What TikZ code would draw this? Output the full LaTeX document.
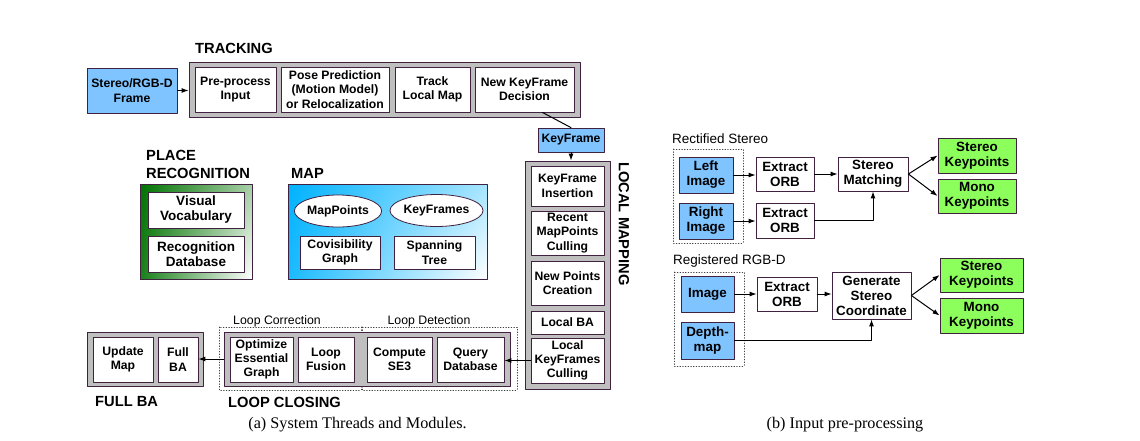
\documentclass[tikz,border=0pt]{standalone}
\usepackage{fontspec}
\setmainfont{Liberation Serif}
\setsansfont{Liberation Sans}
\usetikzlibrary{shapes.geometric,arrows.meta,shadings}
\definecolor{edge}{rgb}{0.25,0.13,0.25}
\definecolor{inblue}{rgb}{0.5,0.77,1}
\definecolor{kpgreen}{rgb}{0.55,1,0.36}
\definecolor{mapblue}{rgb}{0,0.7,1}
\definecolor{prgreen}{rgb}{0,0.45,0}
\definecolor{bandgray}{rgb}{0.75,0.75,0.75}

\begin{document}
\begin{tikzpicture}[line cap=round,line join=round,x=1pt,y=-1pt,
	sz/.style 2 args={minimum width=#1pt,minimum height=#2pt},
	box/.style={draw=edge,fill=white,line width=0.8pt,inner sep=0pt,align=center,font=\fontsize{12.2}{14.3}\selectfont\sffamily\bfseries},
	inbox/.style={box,fill=inblue},
	prbox/.style={box,font=\fontsize{13.5}{15}\selectfont\sffamily\bfseries},
	rbox/.style={box,font=\fontsize{13.4}{15}\selectfont\sffamily\bfseries},
	rin/.style={rbox,fill=inblue},
	kpbox/.style={rbox,fill=kpgreen},
	band/.style={draw=edge,fill=bandgray,line width=0.8pt,inner sep=0pt},
	title/.style={font=\fontsize{14.7}{17.5}\selectfont\sffamily\bfseries,inner sep=0pt,align=left},
	sub/.style={font=\fontsize{12.3}{14}\selectfont\sffamily,inner sep=0pt},
	rsub/.style={font=\fontsize{13.5}{15}\selectfont\sffamily,inner sep=0pt},
	capt/.style={font=\fontsize{16.2}{18}\selectfont,inner sep=0pt},
	grp/.style={draw=black!75,dotted,line width=0.7pt},
	link/.style={-{Latex[length=7pt,width=5pt]},line width=1pt}]
	\useasboundingbox (0,0) rectangle (1140,440);

	% tracking
	\node[band,sz={391}{55}] (trk) at (384.5,89.5) {};
	\node[inbox,sz={90}{45}] (frame) at (132,90.5) {Stereo/RGB-D\\Frame};
	\node[box,sz={81}{45}] (pre) at (235.5,89.5) {Pre-process\\Input};
	\node[box,sz={108}{45}] (pose) at (335,89.5) {Pose Prediction\\(Motion Model)\\or Relocalization};
	\node[box,sz={75}{45}] (tlm) at (432.5,89.5) {Track\\Local Map};
	\node[box,sz={99}{45}] (nkd) at (524.5,89.5) {New KeyFrame\\Decision};
	\node[title,anchor=west] (trkt) at (195,48) {TRACKING};
	\draw[link] (frame.east) -- (frame.east -| trk.west);

	% keyframe
	\node[inbox,sz={66}{24}] (kf) at (571,140) {KeyFrame};
	\draw[line width=1pt] (nkd.-52) -- (kf.north);

	% local mapping
	\node[band,sz={85}{228}] (lm) at (567.5,275) {};
	\node[box,sz={73}{40}] (kfi) at (567.5,186) {KeyFrame\\Insertion};
	\node[box,sz={73}{44}] (rmc) at (567.5,233) {Recent\\MapPoints\\Culling};
	\node[box,sz={73}{44}] (npc) at (567.5,283) {New Points\\Creation};
	\node[box,sz={73}{23}] (lba) at (567.5,322.5) {Local BA};
	\node[box,sz={73}{45}] (lkc) at (567.5,360.5) {Local\\KeyFrames\\Culling};
	\node[title,rotate=-90] (lmt) at (624,224) {LOCAL MAPPING};
	\draw[link] (kf.south) -- (kf.south |- lm.north);

	% place recognition
	\node[band,sz={112}{95},upper left=prgreen,lower left=prgreen!90!white,upper right=prgreen!35!white,lower right=white] (pr) at (196,231.5) {};
	\node[prbox,sz={96}{36}] (vv) at (196,210) {Visual\\Vocabulary};
	\node[prbox,sz={96}{36}] (rd) at (196,254) {Recognition\\Database};
	\node[title,anchor=west] (prt) at (146,164.5) {PLACE\\RECOGNITION};

	% map
	\node[band,sz={199}{95},upper left=mapblue,lower left=mapblue!90!white,upper right=mapblue!35!white,lower right=white] (map) at (387.5,231.5) {};
	\node[box,ellipse,sz={86}{32}] (mp) at (338,211) {MapPoints};
	\node[box,ellipse,sz={87}{32}] (kfs) at (436.5,210.5) {KeyFrames};
	\node[box,sz={80}{33}] (cg) at (340,252.5) {Covisibility\\Graph};
	\node[box,sz={81}{33}] (st) at (434.5,252.5) {Spanning\\Tree};
	\node[title,anchor=west] (mapt) at (291,173) {MAP};

	% loop closing
	\draw[grp] (219,327) rectangle (361,390);
	\draw[grp] (362,327) rectangle (517,390);
	\node[band,sz={286}{54}] (lcb) at (367,359) {};
	\node[box,sz={63}{45}] (oeg) at (261.5,359.5) {Optimize\\Essential\\Graph};
	\node[box,sz={56}{45}] (lf) at (326,359.5) {Loop\\Fusion};
	\node[box,sz={65}{45}] (cse) at (399.5,359.5) {Compute\\SE3};
	\node[box,sz={67}{45}] (qd) at (470.5,359.5) {Query\\Database};
	\node[sub] (lct) at (277,321) {Loop Correction};
	\node[sub] (ldt) at (429,321) {Loop Detection};
	\node[title,anchor=west] (lclt) at (228,402) {LOOP CLOSING};
	\draw[link] (lkc.west) -- (lkc.west -| qd.east);

	% full BA
	\node[band,sz={116}{54}] (fba) at (145,359) {};
	\node[box,sz={60}{45}] (um) at (123,359.5) {Update\\Map};
	\node[box,sz={40}{45}] (fb) at (178,359.5) {Full\\BA};
	\node[title,anchor=west] (fbat) at (95,402) {FULL BA};
	\draw[link] (lcb.west) -- (lcb.west -| fb.east);

	\node[capt] (capa) at (357.5,425) {(a) System Threads and Modules.};

	% rectified stereo
	\node[rsub,anchor=west] (rst) at (672,139) {Rectified Stereo};
	\draw[grp] (673,149) rectangle (743,243);
	\node[rin,sz={54}{36}] (li) at (706,175) {Left\\Image};
	\node[rin,sz={54}{36}] (ri) at (706,221) {Right\\Image};
	\node[rbox,sz={58}{34}] (orb1) at (785,174) {Extract\\ORB};
	\node[rbox,sz={58}{35}] (orb2) at (785,220.5) {Extract\\ORB};
	\node[rbox,sz={70}{34}] (sm) at (873,174) {Stereo\\Matching};
	\node[kpbox,sz={78}{35}] (sk1) at (977,155.5) {Stereo\\Keypoints};
	\node[kpbox,sz={78}{34}] (mk1) at (977,196) {Mono\\Keypoints};
	\draw[link] (li.east) -- (li.east -| orb1.west);
	\draw[link] (orb1.east) -- (sm.west);
	\draw[link] (ri.east) -- (ri.east -| orb2.west);
	\draw[link] (orb2.east) -| (sm.south);
	\draw[link] (sm.east) -- (sk1.west);
	\draw[link] (sm.east) -- (mk1.west);

	% registered rgb-d
	\node[rsub,anchor=west] (rgt) at (673,261) {Registered RGB-D};
	\draw[grp] (674,272) rectangle (744,366);
	\node[rin,sz={53}{36}] (img) at (707.5,294) {Image};
	\node[rin,sz={53}{37}] (dm) at (707.5,340.5) {Depth-\\map};
	\node[rbox,sz={60}{34}] (orb3) at (787,294) {Extract\\ORB};
	\node[rbox,sz={79}{47}] (gsc) at (871.5,295.5) {Generate\\Stereo\\Coordinate};
	\node[kpbox,sz={83}{34}] (sk2) at (981.5,275) {Stereo\\Keypoints};
	\node[kpbox,sz={83}{35}] (mk2) at (981.5,315.5) {Mono\\Keypoints};
	\draw[link] (img.east) -- (orb3.west);
	\draw[link] (orb3.east) -- (orb3.east -| gsc.west);
	\draw[link] (dm.east) -| (gsc.south);
	\draw[link] (gsc.east) -- (sk2.west);
	\draw[link] (gsc.east) -- (mk2.west);

	\node[capt] (capb) at (845,425) {(b) Input pre-processing};
\end{tikzpicture}
\end{document}
